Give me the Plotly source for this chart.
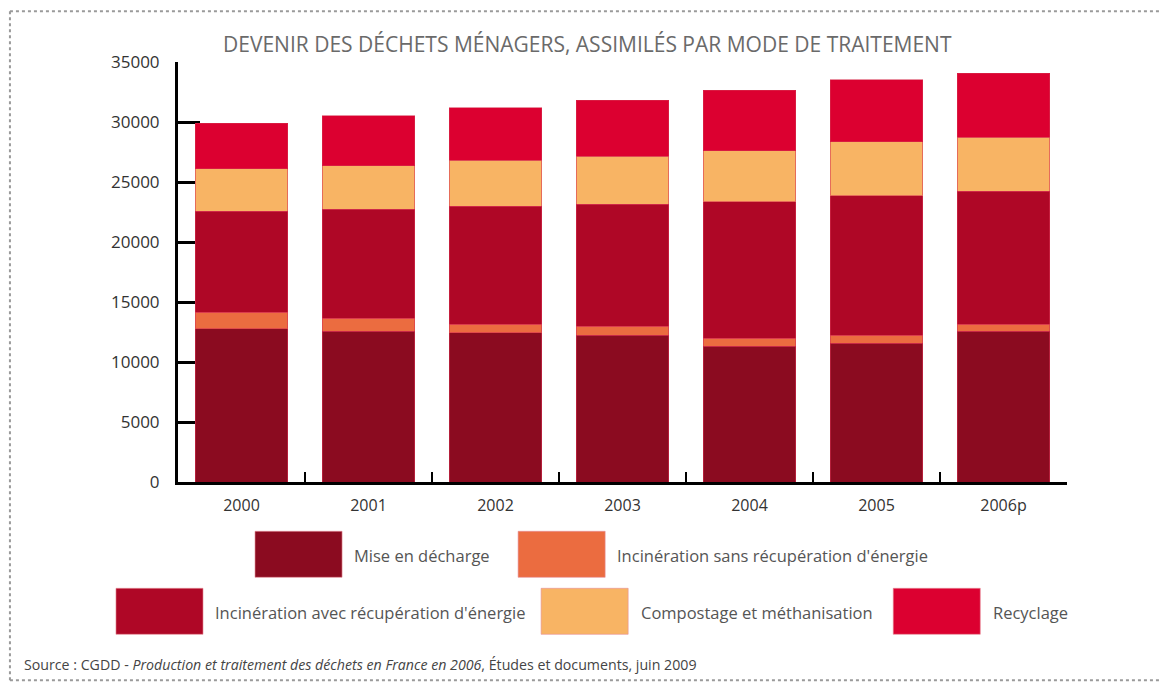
import plotly.graph_objects as go

years = ["2000", "2001", "2002", "2003", "2004", "2005", "2006p"]
series_names = [
    "Mise en décharge",
    "Incinération sans récupération d'énergie",
    "Incinération avec récupération d'énergie",
    "Compostage et méthanisation",
    "Recyclage",
]
mise_en_decharge = [12780, 12580, 12420, 12250, 11310, 11560, 12580]
incin_sans = [1360, 1060, 720, 725, 665, 665, 560]
incin_avec = [8440, 9110, 9830, 10170, 11390, 11610, 11110]
compostage = [3530, 3620, 3830, 4020, 4250, 4530, 4500]
recyclage = [3800, 4170, 4390, 4640, 5025, 5170, 5310]
y_ticks = [0, 5000, 10000, 15000, 20000, 25000, 30000, 35000]

colors = ["#8B0B20", "#EB6C40", "#AF0726", "#F8B464", "#DC0030"]
values = [mise_en_decharge, incin_sans, incin_avec, compostage, recyclage]

W, H = 1160, 683
L, R_EDGE, T, B_EDGE = 178, 1066.7, 61.7, 481.7
PW, PH = R_EDGE - L, B_EDGE - T

def px(x):
    return (x - L) / PW

def py(y):
    return (B_EDGE - y) / PH

fig = go.Figure()
for name, vals, col in zip(series_names, values, colors):
    fig.add_trace(go.Bar(
        x=years, y=vals, name=name, showlegend=False,
        marker=dict(color=col, line=dict(color="rgba(215,50,80,0.55)", width=1)),
    ))

shapes = []
annotations = []
# legend boxes (pixel positions) : x0, y0, x1, y1, text x
legend_pos = [
    (255, 531, 342, 577, 352),
    (518, 531, 605, 577, 615),
    (116, 588, 203, 634, 213),
    (541, 588, 628, 634, 639),
    (893, 588, 980, 634, 991),
]
for (x0, y0, x1, y1, tx), name, col in zip(legend_pos, series_names, colors):
    shapes.append(dict(type="rect", xref="paper", yref="paper",
                       x0=px(x0), x1=px(x1), y0=py(y1), y1=py(y0),
                       fillcolor=col, line=dict(color="rgba(230,140,150,0.6)", width=1)))
    annotations.append(dict(xref="paper", yref="paper", x=px(tx), y=py((y0 + y1) / 2 + 1),
                            text=name, showarrow=False, xanchor="left", yanchor="middle",
                            font=dict(family="Open Sans", size=16.5, color="#555555")))

# dotted frame
dot = dict(color="#9a9a9a", width=2, dash="dot")
shapes.append(dict(type="line", xref="paper", yref="paper", x0=px(10), x1=px(1160), y0=py(11), y1=py(11), line=dot))
shapes.append(dict(type="line", xref="paper", yref="paper", x0=px(10), x1=px(1160), y0=py(680), y1=py(680), line=dot))
shapes.append(dict(type="line", xref="paper", yref="paper", x0=px(10), x1=px(10), y0=py(11), y1=py(680), line=dot))

annotations.append(dict(
    xref="paper", yref="paper", x=px(22), y=py(664), xanchor="left", yanchor="middle", showarrow=False,
    text="Source : CGDD - <i>Production et traitement des déchets en France en 2006</i>, Études et documents, juin 2009",
    font=dict(family="Open Sans", size=14.2, color="#444444")))

annotations.append(dict(
    xref="paper", yref="paper", x=px(587), y=py(44), xanchor="center", yanchor="middle", showarrow=False,
    text="DEVENIR DES DÉCHETS MÉNAGERS, ASSIMILÉS PAR MODE DE TRAITEMENT",
    font=dict(family="Open Sans", size=21, color="#6a6a6a")))

fig.update_layout(
    barmode="stack",
    bargap=0.274,
    width=W, height=H,
    margin=dict(l=L, r=W - R_EDGE, t=T, b=H - B_EDGE, autoexpand=False),
    paper_bgcolor="white", plot_bgcolor="white",
    shapes=shapes, annotations=annotations,
    xaxis=dict(
        type="category", range=[-0.5, 6.5], showgrid=False,
        showline=True, linecolor="black", linewidth=3, layer="below traces",
        ticks="inside", tickson="boundaries", ticklen=10, tickwidth=2, tickcolor="black",
        tickfont=dict(family="Open Sans", size=16, color="#333333"),
        ticklabelstandoff=7,
    ),
    yaxis=dict(
        range=[0, 35000], tickvals=y_ticks, ticktext=[str(v) for v in y_ticks],
        showgrid=False, zeroline=False,
        showline=True, linecolor="black", linewidth=3, layer="below traces",
        ticks="inside", ticklen=22, tickwidth=2.5, tickcolor="black",
        tickfont=dict(family="Open Sans", size=17, color="#333333"),
        ticklabelstandoff=12,
    ),
)

fig.write_html("out.html", config={"displayModeBar": False},
               post_script="document.body.style.margin='0px';document.body.style.overflow='hidden';")
